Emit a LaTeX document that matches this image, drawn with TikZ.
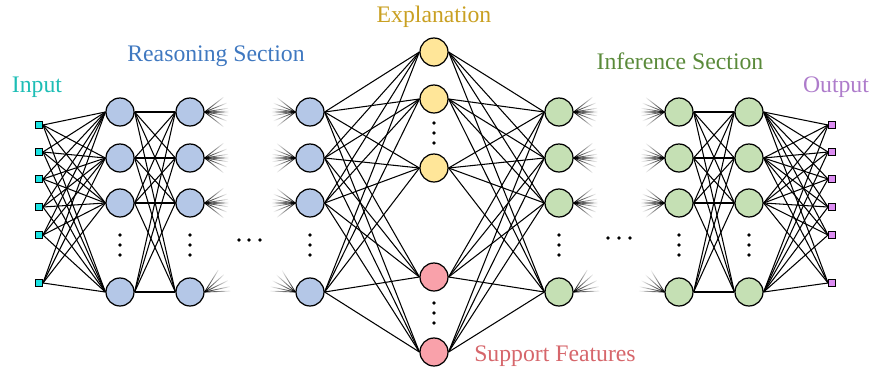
\documentclass[tikz,border=0pt]{standalone}
\usepackage{fontspec}
\setmainfont{Liberation Serif}
\usepackage{xcolor}
\usetikzlibrary{fadings}

% fill and label colours
\definecolor{inputfill}{HTML}{1CE3E3}
\definecolor{inputtxt}{HTML}{1DBDB5}
\definecolor{reasonfill}{HTML}{B4C7E7}
\definecolor{reasontxt}{HTML}{3F78C0}
\definecolor{explfill}{HTML}{FFE699}
\definecolor{expltxt}{HTML}{C9A022}
\definecolor{suppfill}{HTML}{F9A1AA}
\definecolor{supptxt}{HTML}{D6666B}
\definecolor{inferfill}{HTML}{C5E0B4}
\definecolor{infertxt}{HTML}{5A8A3A}
\definecolor{outputfill}{HTML}{DC8CF2}
\definecolor{outputtxt}{HTML}{AE7CCB}

\tikzfading[name=fade out right, left color=transparent!0, right color=transparent!100]
\tikzfading[name=fade out left, left color=transparent!100, right color=transparent!0]

\begin{document}
\begin{tikzpicture}[x=0.02cm,y=-0.02cm,
            neuron/.style={shape=circle, draw, line width=0.7pt, minimum size=0.56cm, inner sep=0pt},
            sq/.style={shape=rectangle, draw, line width=0.5pt, minimum size=0.14cm, inner sep=0pt},
            link/.style={line width=0.6pt},
            stubr/.style={line width=0.5pt, path fading=fade out right},
            stubl/.style={line width=0.5pt, path fading=fade out left},
            dot/.style={shape=circle, fill, inner sep=0pt, minimum size=2.1pt},
            lbl/.style={font=\fontsize{13.5}{16}\selectfont}]
        \useasboundingbox (0,0) rectangle (873,373);

        % input and output ports
        \foreach \y [count=\i] in {125,152,179,207,235,283} {
            \node[sq, fill=inputfill] (in\i) at (39,\y) {};
            \node[sq, fill=outputfill] (out\i) at (832,\y) {};
        }

        % reasoning and inference layers
        \foreach \l/\xr/\xf in {1/120/559, 2/190/679, 3/310/749}
            \foreach \y [count=\i] in {112,158,203,292} {
                \node[neuron, fill=reasonfill] (r\l-\i) at (\xr,\y) {};
                \node[neuron, fill=inferfill] (f\l-\i) at (\xf,\y) {};
            }

        % explanation and support nodes
        \node[neuron, fill=explfill] (x1) at (434,52) {};
        \node[neuron, fill=explfill] (x2) at (434,99) {};
        \node[neuron, fill=explfill] (x3) at (434,168) {};
        \node[neuron, fill=suppfill] (x4) at (434,277) {};
        \node[neuron, fill=suppfill] (x5) at (434,352) {};

        % full connections
        \foreach \i in {1,...,6}
            \foreach \j in {1,...,4} {
                \draw[link] (in\i.east) -- (r1-\j.west);
                \draw[link] (f3-\j.east) -- (out\i.west);
            }
        \foreach \i in {1,...,4}
            \foreach \j in {1,...,4} {
                \draw[link] (r1-\i.east) -- (r2-\j.west);
                \draw[link] (f2-\i.east) -- (f3-\j.west);
            }
        \foreach \i in {1,...,4}
            \foreach \j in {1,...,5} {
                \draw[link] (r3-\i.east) -- (x\j.west);
                \draw[link] (x\j.east) -- (f1-\i.west);
            }

        % loose ends toward the hidden layers (no flat ones, the fading needs some height)
        \foreach \i in {1,2,3}
            \foreach \a in {-38,-22,-9,-2,2,9,22,38} {
                \draw[stubr] (r2-\i.east) -- ++(\a:24);
                \draw[stubr] (f1-\i.east) -- ++(\a:24);
                \draw[stubl] (r3-\i.west) -- ++(180+\a:24);
                \draw[stubl] (f2-\i.west) -- ++(180+\a:24);
            }
        \foreach \a in {-2,-12,-26,-42,-58} {
            \draw[stubr] (r2-4.east) -- ++(\a:26);
            \draw[stubr] (f1-4.east) -- ++(\a:26);
            \draw[stubl] (r3-4.west) -- ++(180-\a:26);
            \draw[stubl] (f2-4.west) -- ++(180-\a:26);
        }

        % ellipses
        \foreach \x in {120,190,310,559,679,749}
            \foreach \y in {235,245,255}
                \node[dot] at (\x,\y) {};
        \foreach \y in {123,133,143,303,313,323}
            \node[dot] at (434,\y) {};
        \foreach \x in {239,249,260}
            \node[dot] at (\x,240) {};
        \foreach \x in {608,619,630}
            \node[dot] at (\x,238) {};

        % section titles
        \node[lbl, text=inputtxt] (tin) at (37,87) {Input};
        \node[lbl, text=reasontxt] (treason) at (216,56) {Reasoning Section};
        \node[lbl, text=expltxt] (texpl) at (434,17) {Explanation};
        \node[lbl, text=infertxt] (tinfer) at (680,61) {Inference Section};
        \node[lbl, text=outputtxt] (tout) at (836,87) {Output};
        \node[lbl, text=supptxt] (tsupp) at (555,356) {Support Features};
    \end{tikzpicture}
\end{document}
